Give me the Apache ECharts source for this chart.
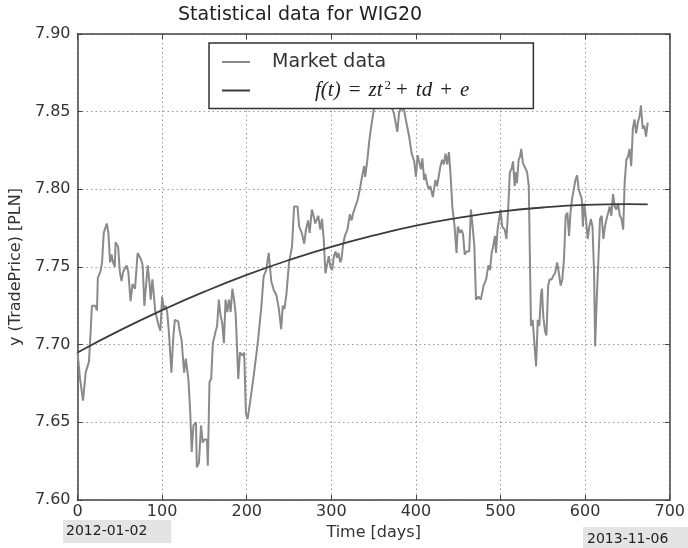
<!DOCTYPE html>
<html>
<head>
<meta charset="utf-8">
<script src="https://cdn.jsdelivr.net/npm/echarts@6/dist/echarts.min.js"></script>
<style>
html,body{margin:0;padding:0;background:#fff;}
#chart{width:688px;height:548px;}
</style>
</head>
<body>
<div id="chart"></div>
<script>
const chartTitle = 'Statistical data for WIG20';
const startDateLabel = '2012-01-02';
const endDateLabel = '2013-11-06';
const marketName = 'Market data';
const fitName = 'f(t) = zt² + td + e';

const marketDays = [0,3,6.5,9.6,13.5,15,17,21,23,24,27,29,31,34.6,36.5,38.5,40.4,42,44,45,48,50,52,54,58,60,62.7,65,68,71,75,77,79,81,83,85,86.5,88.5,90,92,96,98,100,102,104,106,108,111,113,115,119,121,123,126,128,131,133,135,137,140,141,143.5,146,148,150,153,154,156,158,160,163,165,167,169,171,173,175,177,179,181,183,185.5,187,190,192,195,197,199,201,204,208,211,213.6,217.4,220,223,226,229,232,235,238,240.7,242.6,244.6,247,250,253.5,256,258,260,262,265,268,270,272.5,274.4,277,279,281,284.5,287,289,291,293,295,297,299,301,303,305,306.6,308.5,310.5,312,314,316,319,322,324,326,328,331,333.7,335.6,338.8,340,342.6,344.6,347,349,350.4,353,356,359,362,365,368,371,372.5,374,378,380,382,386,388,392,395,398,400,402,404,406,407.6,409.7,411,413,415,417,420,423,425,429,431,433,435,437,439,441,443,445.7,448,449.5,452,454,455.7,457.7,460,463,465,467,469,471,474,476.7,480,483,485.6,487.6,489.5,491.5,493.4,494.6,496.5,498.4,500,502,505,507,509,511,513,514.8,516.7,518,519.4,521.4,523,524.5,526.4,529,531.4,533.4,535,536,538,540,542,544,545.8,548,549,550.5,552.8,554.3,556.3,558,560.5,562,564.4,567,569,571,573,575,577,579,581,582.7,584.6,586.6,588.5,590.5,592.4,594.3,596,597.4,599,601,603,605,606.8,608.7,610.6,611.8,613.7,615.7,617.6,619.6,621.5,623.4,625.4,627.3,629,631,633,635,637,639,641,643,645,646.7,648.7,650.6,652.5,654.5,656.4,658.4,660.3,662.3,664.3,666,668,670,672,674];

const marketPrices = [7.695,7.678,7.664,7.682,7.689,7.703,7.725,7.725,7.722,7.743,7.747,7.753,7.772,7.778,7.772,7.753,7.758,7.753,7.750,7.766,7.763,7.747,7.741,7.747,7.751,7.747,7.728,7.739,7.736,7.759,7.755,7.751,7.725,7.738,7.751,7.740,7.729,7.742,7.733,7.721,7.712,7.709,7.731,7.723,7.725,7.721,7.708,7.682,7.703,7.716,7.715,7.708,7.703,7.682,7.691,7.678,7.659,7.631,7.648,7.650,7.621,7.624,7.648,7.637,7.639,7.639,7.622,7.676,7.678,7.701,7.708,7.712,7.729,7.719,7.714,7.701,7.729,7.721,7.729,7.721,7.736,7.727,7.719,7.678,7.695,7.693,7.695,7.656,7.652,7.663,7.679,7.692,7.704,7.725,7.744,7.748,7.759,7.741,7.735,7.732,7.723,7.710,7.725,7.723,7.733,7.753,7.763,7.789,7.790,7.789,7.776,7.772,7.765,7.774,7.780,7.772,7.787,7.783,7.778,7.783,7.774,7.781,7.768,7.746,7.747,7.757,7.750,7.748,7.757,7.760,7.756,7.759,7.753,7.755,7.765,7.770,7.774,7.784,7.780,7.785,7.786,7.793,7.800,7.806,7.815,7.808,7.819,7.830,7.840,7.847,7.852,7.860,7.866,7.858,7.868,7.862,7.866,7.857,7.851,7.849,7.837,7.849,7.852,7.851,7.845,7.834,7.823,7.818,7.808,7.822,7.823,7.813,7.820,7.806,7.810,7.804,7.800,7.802,7.795,7.806,7.802,7.815,7.819,7.816,7.823,7.816,7.824,7.809,7.789,7.776,7.759,7.776,7.772,7.774,7.771,7.758,7.760,7.760,7.787,7.776,7.764,7.729,7.731,7.729,7.738,7.742,7.751,7.748,7.759,7.764,7.770,7.759,7.774,7.781,7.787,7.776,7.774,7.768,7.787,7.811,7.813,7.818,7.802,7.811,7.804,7.819,7.821,7.826,7.817,7.814,7.811,7.802,7.746,7.712,7.716,7.717,7.686,7.716,7.712,7.733,7.736,7.718,7.708,7.706,7.738,7.742,7.742,7.744,7.746,7.753,7.746,7.738,7.742,7.755,7.783,7.785,7.770,7.785,7.794,7.800,7.806,7.809,7.800,7.801,7.794,7.776,7.791,7.781,7.768,7.776,7.781,7.776,7.746,7.699,7.729,7.755,7.781,7.783,7.768,7.776,7.781,7.785,7.789,7.783,7.797,7.789,7.787,7.791,7.783,7.781,7.774,7.804,7.819,7.821,7.826,7.815,7.839,7.845,7.836,7.843,7.847,7.854,7.839,7.841,7.834,7.843];

const fitDays = [0,50,100,150,200,250,300,350,400,450,500,550,600,650,674];
const fitPrices = [7.695,7.7092,7.7222,7.7341,7.7449,7.7545,7.7630,7.7703,7.7766,7.7816,7.7856,7.7883,7.7900,7.7905,7.7903];

const xTicks = {min: 0, max: 700, step: 100};
const yTicks = {min: 7.60, max: 7.90, step: 0.05};

const FONT = 'DejaVu Sans';
const SERIF = 'Liberation Serif';
const chart = echarts.init(document.getElementById('chart'), null, {renderer: 'canvas'});

const axisLineStyle = {color: '#444', width: 1.5};
const gridLine = {show: true, lineStyle: {type: [1.5, 3], color: '#9a9a9a', width: 1}};

function mathLabel() {
  return '{f0|f(t)}{o|=}{f|zt}{s|2}{o2|+}{f|td}{o|+}{f|e}';
}

chart.setOption({
  animation: false,
  backgroundColor: '#fff',
  title: [
    {text: chartTitle, left: 178, top: 6, padding: 0,
     textStyle: {fontFamily: FONT, fontSize: 19, fontWeight: 'normal', color: '#222'}},
    {text: startDateLabel, left: 63, top: 520, padding: [4, 24, 5, 3], backgroundColor: '#e4e4e4',
     textStyle: {fontFamily: FONT, fontSize: 14, fontWeight: 'normal', color: '#222'}},
    {text: endDateLabel, left: 583, top: 527, padding: [5, 20, 6, 4], backgroundColor: '#e4e4e4',
     textStyle: {fontFamily: FONT, fontSize: 14, fontWeight: 'normal', color: '#222'}}
  ],
  legend: {
    orient: 'vertical',
    left: 209, top: 43,
    padding: [8, 64, 7, 13],
    itemGap: 6,
    itemWidth: 28, itemHeight: 2,
    icon: 'rect',
    backgroundColor: '#fff',
    borderColor: '#333', borderWidth: 1.5,
    data: [marketName, fitName],
    formatter: function (name) {
      return name === fitName ? mathLabel() : '{m|' + name + '}';
    },
    textStyle: {
      rich: {
        m: {fontFamily: FONT, fontSize: 19, color: '#333', padding: [0, 0, 0, 17], lineHeight: 22, height: 22},
        f0: {fontFamily: SERIF, fontStyle: 'italic', fontSize: 21, color: '#222', padding: [0, 0, 0, 60], lineHeight: 22, height: 22},
        f: {fontFamily: SERIF, fontStyle: 'italic', fontSize: 21, color: '#222', lineHeight: 22, height: 22},
        o: {fontFamily: SERIF, fontSize: 21, color: '#222', padding: [0, 8, 0, 8], lineHeight: 22, height: 22},
        o2: {fontFamily: SERIF, fontSize: 21, color: '#222', padding: [0, 8, 0, 3], lineHeight: 22, height: 22},
        s: {fontFamily: SERIF, fontSize: 13, color: '#222', padding: [0, 2, 0, 2], lineHeight: 12, height: 12, verticalAlign: 'top'}
      }
    }
  },
  grid: {left: 72, right: 16, top: 34, bottom: 48, containLabel: false},
  xAxis: [
    {type: 'value', position: 'bottom', min: xTicks.min, max: xTicks.max, interval: xTicks.step,
     axisLine: {show: true, onZero: false, lineStyle: axisLineStyle},
     axisTick: {show: true, inside: true, length: 5, lineStyle: {color: '#444'}},
     axisLabel: {margin: 4, fontFamily: FONT, fontSize: 16, color: '#333'},
     splitLine: gridLine,
     name: 'Time [days]', nameLocation: 'middle', nameGap: 16,
     nameTextStyle: {fontFamily: FONT, fontSize: 16, color: '#333'}},
    {type: 'value', position: 'top', min: xTicks.min, max: xTicks.max, interval: xTicks.step,
     axisLine: {show: true, onZero: false, lineStyle: axisLineStyle},
     axisTick: {show: true, inside: true, length: 5, lineStyle: {color: '#444'}},
     axisLabel: {show: false}, splitLine: {show: false}}
  ],
  yAxis: [
    {type: 'value', position: 'left', min: yTicks.min, max: yTicks.max, interval: yTicks.step,
     axisLine: {show: true, onZero: false, lineStyle: axisLineStyle},
     axisTick: {show: true, inside: true, length: 5, lineStyle: {color: '#444'}},
     axisLabel: {margin: 7, fontFamily: FONT, fontSize: 16, color: '#333',
                 formatter: function (v) { return v.toFixed(2); }},
     splitLine: gridLine,
     name: 'y (TradePrice) [PLN]', nameLocation: 'middle', nameGap: 49, nameRotate: 90,
     nameTextStyle: {fontFamily: FONT, fontSize: 16, color: '#333'}},
    {type: 'value', position: 'right', min: yTicks.min, max: yTicks.max, interval: yTicks.step,
     axisLine: {show: true, onZero: false, lineStyle: axisLineStyle},
     axisTick: {show: true, inside: true, length: 5, lineStyle: {color: '#444'}},
     axisLabel: {show: false}, splitLine: {show: false}}
  ],
  series: [
    {name: marketName, type: 'line', xAxisIndex: 0, yAxisIndex: 0,
     data: marketDays.map(function (d, i) { return [d, marketPrices[i]]; }),
     symbol: 'none', showSymbol: false, color: '#8a8a8a',
     lineStyle: {width: 2, color: '#8a8a8a'}, z: 2},
    {name: fitName, type: 'line', xAxisIndex: 0, yAxisIndex: 0,
     data: fitDays.map(function (d, i) { return [d, fitPrices[i]]; }),
     smooth: true, symbol: 'none', showSymbol: false, color: '#3c3c3c',
     lineStyle: {width: 1.8, color: '#3c3c3c'}, z: 3}
  ]
});
</script>
</body>
</html>
